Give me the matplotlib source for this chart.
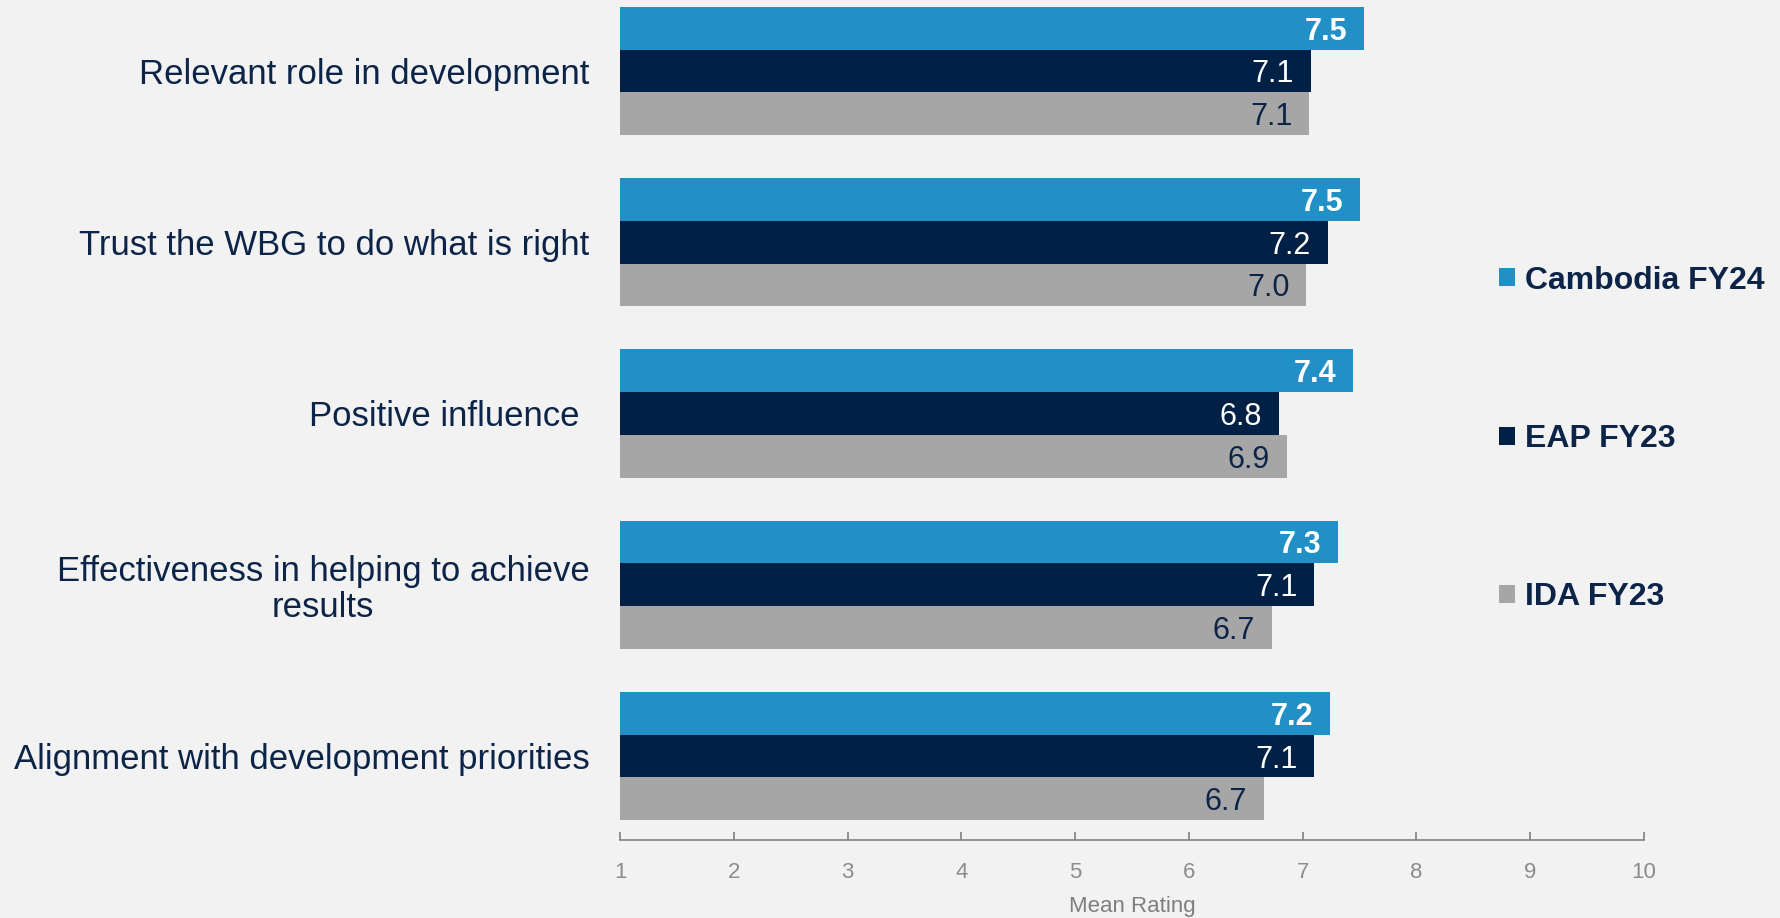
import matplotlib
matplotlib.use("Agg")
import matplotlib.pyplot as plt
import numpy as np

plt.rcParams["font.family"] = ["Liberation Sans", "DejaVu Sans"]

categories = [
    "Relevant role in development",
    "Trust the WBG to do what is right",
    "Positive influence ",
    "Effectiveness in helping to achieve\nresults",
    "Alignment with development priorities",
]
series_names = ["Cambodia FY24", "EAP FY23", "IDA FY23"]
cambodia = [7.54, 7.50, 7.44, 7.31, 7.24]
eap = [7.07, 7.22, 6.79, 7.10, 7.10]
ida = [7.06, 7.03, 6.86, 6.73, 6.66]
xticks = [1, 2, 3, 4, 5, 6, 7, 8, 9, 10]

bg = "#F2F2F2"
navy = "#0C2447"
colors = ["#2190C7", "#002145", "#A6A6A6"]
label_colors = ["white", "white", navy]
label_weights = ["bold", "normal", "normal"]

fig = plt.figure(figsize=(17.8, 9.18), dpi=100, facecolor=bg)
ax = fig.add_axes([620 / 1780, 1 - 840 / 918, 1024 / 1780, 840 / 918])
ax.set_facecolor(bg)

y = np.arange(len(categories))
h = 0.25
bars = []
for k, (vals, name) in enumerate(zip([cambodia, eap, ida], series_names)):
    b = ax.barh(y + (k - 1) * h, vals, height=h, color=colors[k], label=name)
    bars.append(b)
    for rect, v in zip(b, vals):
        ax.annotate(f"{v:.1f}", xy=(v, rect.get_y() + rect.get_height() / 2),
                    xytext=(-12, -2.5), textcoords="offset points",
                    ha="right", va="center", fontsize=22,
                    color=label_colors[k], fontweight=label_weights[k])

ax.set_xlim(1, 10)
ax.set_ylim(4.49, -0.414)
ax.set_xticks(xticks)
ax.set_yticks(y)
ax.set_yticklabels(categories, fontsize=25, color=navy, multialignment="center",
                   linespacing=1.1)
ax.tick_params(axis="y", length=0, pad=22)
ax.tick_params(axis="x", direction="in", length=6, width=1.2, color="#808080",
               labelsize=16, labelcolor="#8C8C8C", pad=15.5)
for s in ["top", "right", "left"]:
    ax.spines[s].set_visible(False)
ax.spines["bottom"].set_color("#808080")
ax.spines["bottom"].set_linewidth(1.2)
ax.set_xlabel("Mean Rating", fontsize=16, color="#7F7F7F", labelpad=10)

leg = fig.legend(handles=bars, labels=series_names, loc="center left",
                 bbox_to_anchor=(1483 / 1780, 1 - 439 / 918), frameon=False,
                 fontsize=23, handlelength=0.5, handleheight=0.5,
                 handletextpad=0.3, labelspacing=4.02, borderpad=0)
for t in leg.get_texts():
    t.set_color(navy)
    t.set_fontweight("bold")

fig.savefig("out.png", dpi=100, facecolor=bg)
